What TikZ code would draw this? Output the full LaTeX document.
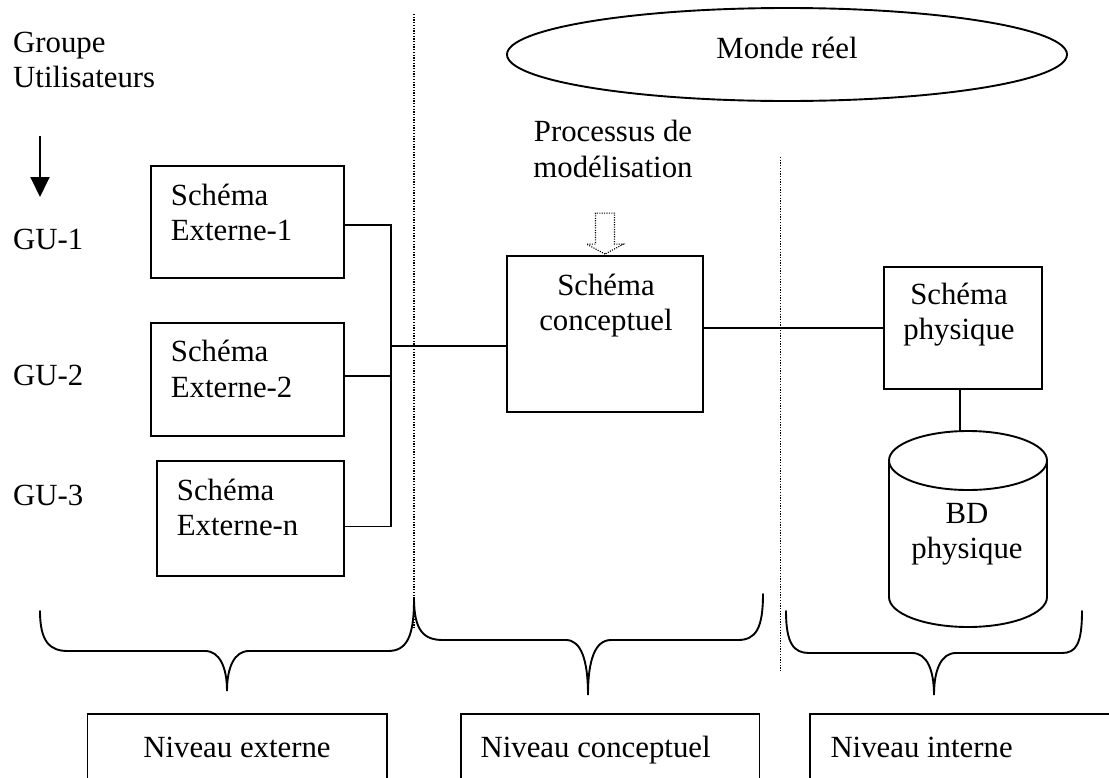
\documentclass[tikz,border=0pt]{standalone}
\usepackage{fontspec}
\setmainfont{Liberation Serif}
\usetikzlibrary{arrows.meta,shapes.geometric}
% two-line labels whose baseline is the first line's baseline
\newcommand{\duoL}[2]{\begin{tabular}[t]{@{}l@{}}#1\\#2\end{tabular}}
\newcommand{\duoC}[2]{\begin{tabular}[t]{@{}c@{}}#1\\#2\end{tabular}}
\begin{document}
\begin{tikzpicture}[x=1pt,y=-1pt,
  every node/.style={font=\fontsize{30.8}{35.5}\selectfont, inner sep=0pt},
  box/.style={draw, rectangle, line width=1.9pt},
  wire/.style={line width=1.9pt},
  guide/.style={line width=1.3pt, dash pattern=on 1.3pt off 1.4pt},
  hollowarrow/.style={line width=1.1pt, dash pattern=on 1.1pt off 1.3pt, line join=miter},
  brace/.style={line width=1.9pt, line cap=round},
]
\path[use as bounding box] (0,0) rectangle (1109,777);
\clip (0,0) rectangle (1109,777);
\fill[white] (0,0) rectangle (1109,777);

% level separators
\draw[guide] (414,14) -- (414,628);
\draw[guide] (780.5,157) -- (780.5,671);

% real world
\node[draw, ellipse, line width=1.9pt, minimum width=560pt, minimum height=93pt] (monde) at (787,54.5) {};
\node[anchor=base] (mondetxt) at (787,58) {Monde réel};

% user groups
\node[anchor=base west] (grp) at (13,52) {\duoL{Groupe}{Utilisateurs}};
\coordinate (arrtop) at (40,136);
\coordinate (arrbot) at (40,197);
\draw[wire, -{Triangle[length=20pt,width=19pt]}] (arrtop) -- (arrbot);
\node[anchor=base west] (gu1) at (13,249) {GU-1};
\node[anchor=base west] (gu2) at (13,385) {GU-2};
\node[anchor=base west] (gu3) at (13,505) {GU-3};

% external schemas
\node[box, minimum width=193.3pt, minimum height=112pt] (ext1) at (247.3,222) {};
\node[box, minimum width=193.3pt, minimum height=113.3pt] (ext2) at (247.3,379.3) {};
\node[box, minimum width=187.3pt, minimum height=115pt] (extn) at (250.3,518.5) {};
\node[anchor=base west] (t1) at (170.7,205) {\duoL{Schéma}{Externe-1}};
\node[anchor=base west] (t2) at (170.7,361.7) {\duoL{Schéma}{Externe-2}};
\node[anchor=base west] (tn) at (176.7,500) {\duoL{Schéma}{Externe-n}};

% conceptual schema
\node[anchor=base] (proc) at (613,141.7) {\duoC{Processus de}{modélisation}};
\node[box, minimum width=196pt, minimum height=156pt] (conc) at (605,334) {};
\node[anchor=base] (tc) at (606,295) {\duoC{Schéma}{conceptuel}};
\draw[hollowarrow] (conc.north) ++(0,-1) -- ++(-18.5,-10) -- ++(9,0) -- ++(0,-31)
  -- ++(19,0) -- ++(0,31) -- ++(9,0) -- cycle;

% physical schema and database
\node[box, minimum width=158pt, minimum height=122pt] (phys) at (963,328) {};
\node[anchor=base] (tp) at (959,304) {\duoC{Schéma}{physique}};
\draw[wire] (889,460.5) -- (889,597)
  arc[start angle=180, end angle=0, x radius=79, y radius=30] -- (1047,460.5);
\draw[wire] (968,460.5) ellipse[x radius=79, y radius=29.5];
\coordinate (dbtop) at (960,431);
\node[anchor=base] (db) at (967,523) {\duoC{BD}{physique}};

% connections
\coordinate (hub) at (391,346);
\draw[wire] ([yshift=-3pt]ext1.east) -| (hub);
\draw[wire] ([yshift=3pt]ext2.east) -- ([yshift=3pt]ext2.east -| hub);
\draw[wire] ([yshift=-8pt]extn.east) -| (hub);
\draw[wire] (hub) -- (hub -| conc.west);
\draw[wire] (phys.west -| conc.east) -- (phys.west);
\draw[wire] (phys.south -| dbtop) -- (dbtop);

% braces
\draw[brace] (40,611) .. controls (40,642) and (50,651) .. (68,651) -- (205,651)
  .. controls (220,651) and (227,668) .. (227,691)
  .. controls (227,668) and (234,651) .. (249,651) -- (388,651)
  .. controls (406,651) and (414,638) .. (414,600);
\draw[brace] (414,598) .. controls (414,631) and (424,640) .. (443,640) -- (566,640)
  .. controls (581,640) and (588,660) .. (588,695)
  .. controls (588,660) and (595,640) .. (611,640) -- (738,640)
  .. controls (756,640) and (763,628) .. (763,594);
\draw[brace] (786,611) .. controls (786,644) and (794,653) .. (809,653) -- (912,653)
  .. controls (927,653) and (934,670) .. (934,695)
  .. controls (934,670) and (941,653) .. (956,653) -- (1062,653)
  .. controls (1076,653) and (1082,644) .. (1082,611);

% level boxes
\node[box, minimum width=299.5pt, minimum height=86pt] (lvl1) at (237.25,757) {};
\node[box, minimum width=298.8pt, minimum height=86pt] (lvl2) at (610.1,757) {};
\node[box, minimum width=309.7pt, minimum height=86pt] (lvl3) at (965.15,757) {};
\node[anchor=base] (n1) at (237,757) {Niveau externe};
\node[anchor=base west] (n2) at (480.4,757) {Niveau conceptuel};
\node[anchor=base west] (n3) at (830.3,757) {Niveau interne};
\end{tikzpicture}
\end{document}
